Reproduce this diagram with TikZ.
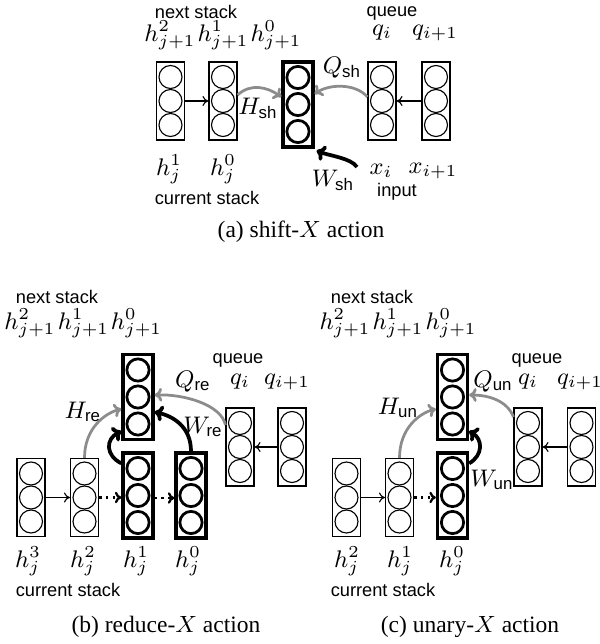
\RequirePackage{fix-cm}
\documentclass[tikz,border=0pt]{standalone}
\usepackage{fontspec}
\setmainfont{Liberation Serif}
\setsansfont{Liberation Sans}
\usetikzlibrary{arrows.meta,calc}
\newcommand\thincol[3]{\node[tbox] (#1) at (#2,#3) {};
  \foreach \d in {-24,0,24}{\draw[tcirc] ($(#1.center)+(0,\d)$) circle[radius=4.6pt];}}
\newcommand\boldcol[3]{\node[bbox] (#1) at (#2,#3) {};
  \foreach \d in {-27,0,27}{\draw[bcirc] ($(#1.center)+(0,\d)$) circle[radius=4.45pt];}}
\begin{document}
\begin{tikzpicture}[x=0.4pt,y=-0.4pt,
  tbox/.style={draw,line width=0.45pt,minimum width=11.2pt,minimum height=31.2pt,inner sep=0pt},
  bbox/.style={draw,line width=1.3pt,minimum width=12pt,minimum height=34pt,inner sep=0pt},
  tcirc/.style={line width=0.45pt},
  bcirc/.style={line width=1.1pt},
  thinarr/.style={line width=0.45pt,-{To[length=2.4pt,width=4pt]}},
  dotarr/.style={line width=0.9pt,dash pattern=on 1pt off 1.7pt,-{To[length=2.6pt,width=4.6pt]}},
  garr/.style={draw=black!45,line width=1.1pt,-{To[length=3pt,width=5.5pt]}},
  barr/.style={draw=black,line width=1.5pt,-{To[length=3.4pt,width=6.4pt]}},
  lab/.style={font=\sffamily\fontsize{7.3}{8}\selectfont,inner sep=0pt},
  mth/.style={font=\fontsize{9.6}{11}\selectfont,inner sep=0pt},
  captxt/.style={font=\rmfamily\fontsize{9.4}{11}\selectfont,inner sep=0pt}]
\useasboundingbox (0,0) rectangle (599,644);
% ---------------- (a) shift ----------------
\thincol{a1}{170.5}{101}
\thincol{a2}{223}{101}
\boldcol{ab}{298}{104.5}
\thincol{aq1}{382}{101}
\thincol{aq2}{436}{101}
\draw[thinarr] (a1) -- (a2);
\draw[thinarr] (aq2) -- (aq1);
\draw[garr] ($(a2.east)+(0,-6)$) .. controls +(13,-12) and +(-14,-10) .. ($(ab.west)+(0,-7.5)$);
\draw[garr] ($(aq1.west)+(0,-4)$) .. controls +(-12,-14) and +(14,-10) .. ($(ab.east)+(0,-10.5)$);
\coordinate (wsh) at (357,167);
\draw[barr] (wsh) .. controls +(-6,-9) and +(12,5) .. ($(ab.south east)+(2,2)$);
\node[lab] (ans) at (196,12) {next stack};
\node[mth] (ah2) at (170,35) {$h^2_{j+1}$};
\node[mth] (ah1) at (223,35) {$h^1_{j+1}$};
\node[mth] (ah0) at (276,35) {$h^0_{j+1}$};
\node[lab] (aqu) at (392,13) {queue};
\node[mth] (aqi) at (382,33) {$q_i$};
\node[mth] (aqi1) at (435,33) {$q_{i+1}$};
\node[mth] (aQ) at (342,68) {$Q_{\mathsf{sh}}$};
\node[mth] (aH) at (258,108) {$H_{\mathsf{sh}}$};
\node[mth] (aW) at (333,180) {$W_{\mathsf{sh}}$};
\node[mth] (acj1) at (169,169) {$h^1_j$};
\node[mth] (acj0) at (223,169) {$h^0_j$};
\node[mth] (axi) at (381,171) {$x_i$};
\node[mth] (axi1) at (433,171) {$x_{i+1}$};
\node[lab] (acs) at (207,198) {current stack};
\node[lab] (ain) at (397,192) {input};
\node[captxt] (capa) at (301,232) {(a) shift-$X$ action};
% ---------------- (b) reduce ----------------
\thincol{b3}{31}{497.5}
\thincol{b2}{84.5}{497.5}
\boldcol{b1}{138}{495.5}
\boldcol{b0}{191}{495.5}
\boldcol{bt}{138}{397}
\thincol{bq1}{240}{447}
\thincol{bq2}{292}{447}
\draw[thinarr] (b3) -- (b2);
\draw[dotarr] (b2.east) -- (b2.east -| b1.west);
\draw[dotarr] ($(b1.east)+(0,2.5)$) -- ($(b0.west)+(0,2.5)$);
\draw[thinarr] (bq2) -- (bq1);
\draw[garr] (b2.north) .. controls +(0,-30) and +(-16,4) .. ($(bt.west)+(0,12)$);
\draw[barr] ($(b1.north west)+(0,12)$) .. controls +(-16,-8) and +(-16,8) .. ($(bt.south west)+(0,-10)$);
\draw[barr] (b0.north) .. controls +(0,-25) and +(18,4) .. ($(bt.east)+(0,15)$);
\draw[garr] ($(bq1.west)+(0,-22)$) .. controls +(-4,-20) and +(30,-1) .. ($(bt.east)+(0,-2)$);
\node[lab] (bns) at (57,297) {next stack};
\node[mth] (bh2) at (30,323) {$h^2_{j+1}$};
\node[mth] (bh1) at (83.5,323) {$h^1_{j+1}$};
\node[mth] (bh0) at (136.5,323) {$h^0_{j+1}$};
\node[lab] (bqu) at (238,360) {queue};
\node[mth] (bQ) at (193,382) {$Q_{\mathsf{re}}$};
\node[mth] (bqi) at (240,382) {$q_i$};
\node[mth] (bqi1) at (287,382) {$q_{i+1}$};
\node[mth] (bH) at (83,412) {$H_{\mathsf{re}}$};
\node[mth] (bW) at (203,427) {$W_{\mathsf{re}}$};
\node[mth] (bcj3) at (28,561) {$h^3_j$};
\node[mth] (bcj2) at (83,561) {$h^2_j$};
\node[mth] (bcj1) at (136,561) {$h^1_j$};
\node[mth] (bcj0) at (188,561) {$h^0_j$};
\node[lab] (bcs) at (68,590) {current stack};
\node[captxt] (capb) at (166,627) {(b) reduce-$X$ action};
% ---------------- (c) unary ----------------
\thincol{c2}{346.5}{497.5}
\thincol{c1}{399.5}{497.5}
\boldcol{c0}{452.5}{495.5}
\boldcol{ct}{452.5}{397}
\thincol{cq1}{528}{447}
\thincol{cq2}{581.5}{447}
\draw[thinarr] (c2) -- (c1);
\draw[dotarr] (c1.east) -- (c1.east -| c0.west);
\draw[thinarr] (cq2) -- (cq1);
\draw[garr] (c1.north) .. controls +(0,-30) and +(-16,4) .. ($(ct.west)+(0,12)$);
\draw[barr] ($(c0.north east)+(0,12)$) .. controls +(14,-8) and +(14,8) .. ($(ct.south east)+(0,-10)$);
\draw[garr] ($(cq1.west)+(0,-30)$) .. controls +(-6,-16) and +(20,0) .. ($(ct.east)+(0,-2)$);
\node[lab] (cns) at (372,297) {next stack};
\node[mth] (ch2) at (345,323) {$h^2_{j+1}$};
\node[mth] (ch1) at (398,323) {$h^1_{j+1}$};
\node[mth] (ch0) at (451,323) {$h^0_{j+1}$};
\node[lab] (cqu) at (537,360) {queue};
\node[mth] (cQ) at (493,382) {$Q_{\mathsf{un}}$};
\node[mth] (cqi) at (528,382) {$q_i$};
\node[mth] (cqi1) at (580,382) {$q_{i+1}$};
\node[mth] (cH) at (398,408) {$H_{\mathsf{un}}$};
\node[mth] (cW) at (492,480) {$W_{\mathsf{un}}$};
\node[mth] (ccj2) at (347,561) {$h^2_j$};
\node[mth] (ccj1) at (400,561) {$h^1_j$};
\node[mth] (ccj0) at (452,561) {$h^0_j$};
\node[lab] (ccs) at (383,590) {current stack};
\node[captxt] (capc) at (470,627) {(c) unary-$X$ action};
\end{tikzpicture}
\end{document}
